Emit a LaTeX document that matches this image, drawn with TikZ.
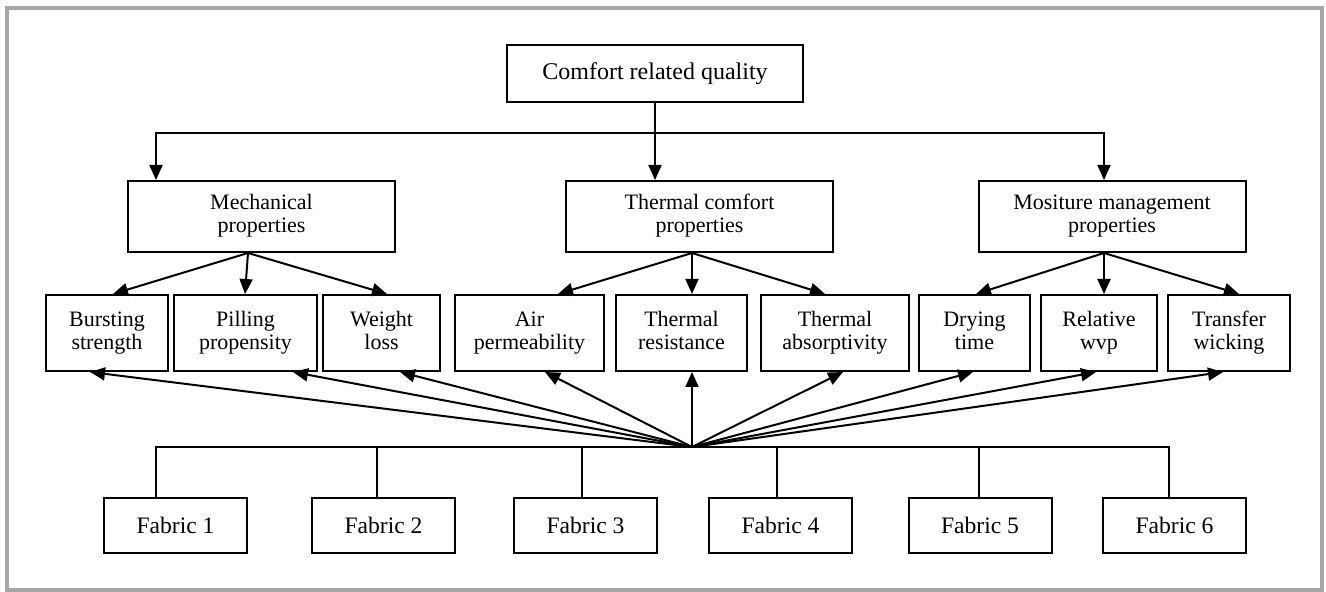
\documentclass[tikz,border=0pt]{standalone}
\usepackage{fontspec}
\setmainfont{Liberation Serif}
\usetikzlibrary{arrows.meta,calc}
\definecolor{framegray}{RGB}{166,166,168}
\tikzset{
 box/.style = {draw, line width=1pt, align=center, inner sep=0pt,
  font=\fontsize{11}{11.5}\selectfont},
 group/.style = {box, minimum width=133.5pt, minimum height=35.5pt},
 prop/.style = {box, minimum height=38pt},
 fabric/.style = {box, minimum width=71.5pt, minimum height=27.5pt,
  font=\fontsize{11.8}{13}\selectfont},
 arr/.style = {line width=1pt, -{Triangle[width=6.5pt,length=7.5pt]}},
 link/.style = {line width=1pt}
}
\newcommand{\twoLines}[2]{\strut #1\\#2\strut}
\newcommand{\fanOut}[2]{
    \foreach \t/\s in {#2}
        \draw[arr] (#1) -- ([xshift=\s]\t.north);
}

\begin{document}
\begin{tikzpicture}[x=0.5pt, y=-0.5pt]
    \useasboundingbox (0,0) rectangle (1326,592);
    \draw[framegray, line width=2pt] (7,8) rectangle (1322,590);

    \node[box, minimum width=148pt, minimum height=28.5pt,
        font=\fontsize{12}{14}\selectfont] (top) at (655,73.5) {Comfort related quality};

    \node[group] (mech) at (261.5,216.5) {\twoLines{Mechanical}{properties}};
    \node[group] (therm) at (699.5,216.5) {\twoLines{Thermal comfort}{properties}};
    \node[group] (moist) at (1112,216.5) {\twoLines{Mositure management}{properties}};

    \node[prop, minimum width=61pt] (burst) at (107,333) {\twoLines{Bursting}{strength}};
    \node[prop, minimum width=71.5pt] (pill) at (245.5,333) {\twoLines{Pilling}{propensity}};
    \node[prop, minimum width=58.5pt] (weight) at (381.5,333) {\twoLines{Weight}{loss}};
    \node[prop, minimum width=74.5pt] (air) at (529.5,333) {\twoLines{Air}{permeability}};
    \node[prop, minimum width=65.5pt] (tres) at (681.5,333) {\twoLines{Thermal}{resistance}};
    \node[prop, minimum width=74pt] (tabs) at (835,333) {\twoLines{Thermal}{absorptivity}};
    \node[prop, minimum width=55.5pt] (dry) at (974.5,333) {\twoLines{Drying}{time}};
    \node[prop, minimum width=58pt] (rel) at (1099,333) {\twoLines{Relative}{wvp}};
    \node[prop, minimum width=61pt] (trans) at (1229,333) {\twoLines{Transfer}{wicking}};

    \foreach \i/\x in {1/175.5, 2/383.5, 3/585.5, 4/780.5, 5/980, 6/1174.5}
        \node[fabric] (f\i) at (\x,525.5) {Fabric \i};

    \coordinate (busW) at (156,133);
    \coordinate (busE) at (1104,133);
    \coordinate (hub) at (692,447);

    \draw[arr] (top) -- (top |- therm.north);
    \draw[arr] (top |- busW) -| (busW |- mech.north);
    \draw[arr] (top |- busE) -| (busE |- moist.north);

    \fanOut{[xshift=-6.75pt]mech.south}{burst/3pt, pill/-0.25pt, weight/2.75pt}
    \fanOut{[xshift=-3.75pt]therm.south}{air/14.25pt, tres/5.25pt, tabs/-5pt}
    \fanOut{[xshift=-4pt]moist.south}{dry/0.75pt, rel/2.5pt, trans/5pt}

    \foreach \t/\s in {burst/-8.5pt, pill/23.75pt, weight/9.25pt, air/7.75pt,
        tres/5.25pt, tabs/4pt, dry/-0.75pt, rel/-1.5pt, trans/-3pt}
        \draw[arr] (hub) -- ([xshift=\s]\t.south);

    \draw[link] ([xshift=-9.75pt]f1.north) |- (hub) -| ([xshift=-2.75pt]f6.north);
    \foreach \f/\s in {f2/-3.25pt, f3/-1.75pt, f4/-1.75pt, f5/-0.5pt}
        \draw[link] ([xshift=\s]\f.north) -- ([xshift=\s]\f.north |- hub);
\end{tikzpicture}
\end{document}
